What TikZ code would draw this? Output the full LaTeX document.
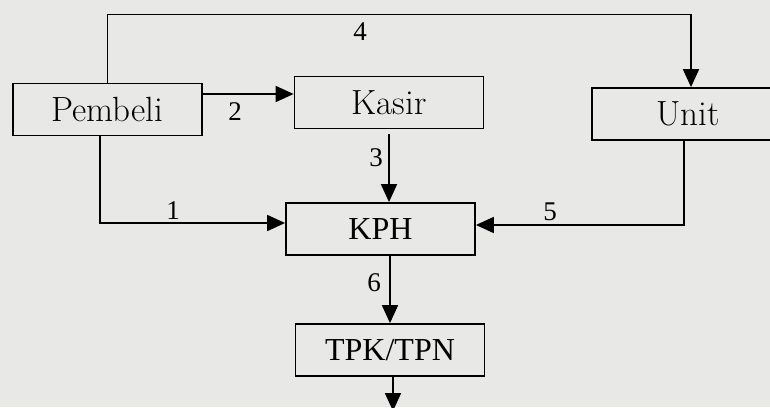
\documentclass[tikz,border=0pt]{standalone}
\usepackage{fontspec}
\newfontfamily\tms{Liberation Serif}
\usetikzlibrary{arrows.meta}

\definecolor{paper}{RGB}{232,232,230}

\tikzstyle{unitbox} = [
rectangle,
minimum width=94.5pt,
minimum height=26pt,
text centered,
draw=black,
line width=0.9pt,
font=\fontsize{17.5}{17.5}\selectfont
]
\tikzstyle{codebox} = [
unitbox,
font=\tms\fontsize{16}{16}\selectfont
]
\tikzstyle{arrow} = [
line width=0.9pt,
-{Triangle[length=9pt,width=8pt]}
]
\tikzstyle{num} = [
font=\tms\fontsize{13.5}{13.5}\selectfont
]

\begin{document}
\begin{tikzpicture}[x=0.5pt,y=-0.5pt]

\fill[paper] (0,0) rectangle (770,407);
\useasboundingbox (0,0) rectangle (770,407);

% Nodes
\node (pembeli) [unitbox] at (107.5,109.5) {Pembeli};

\node (kasir) [unitbox] at (389,102.5) {Kasir};

\node (unit) [unitbox, minimum width=96pt] at (688,114) {Unit};

\node (kph) [codebox] at (380.5,229) {KPH};

\node (tpk) [codebox] at (390,350) {TPK/TPN};

\coordinate (top) at (400,14.5);
\coordinate (row2) at (250,94);
\coordinate (out) at (393,411);

% Arrows
\draw [arrow] (pembeli.north) -- (pembeli.north |- top) -| ([xshift=1.5pt]unit.north);
\draw [arrow] (pembeli.east |- row2) -- (kasir.west |- row2);
\draw [arrow] ([yshift=-2.5pt]kasir.south) -- (kasir.south |- kph.north);
\draw [arrow] ([xshift=-3.75pt]pembeli.south) |- ([yshift=3pt]kph.west);
\draw [arrow] ([xshift=-2pt]unit.south) |- ([yshift=2pt]kph.east);
\draw [arrow] (tpk.north |- kph.south) -- (tpk.north);
\draw [arrow] ([xshift=1.5pt]tpk.south) -- (out);

% Labels
\node [num] at (360,32) {4};
\node [num] at (235,112) {2};
\node [num] at (376,158) {3};
\node [num] at (173,211) {1};
\node [num] at (550,212) {5};
\node [num] at (374,283) {6};

\end{tikzpicture}
\end{document}
